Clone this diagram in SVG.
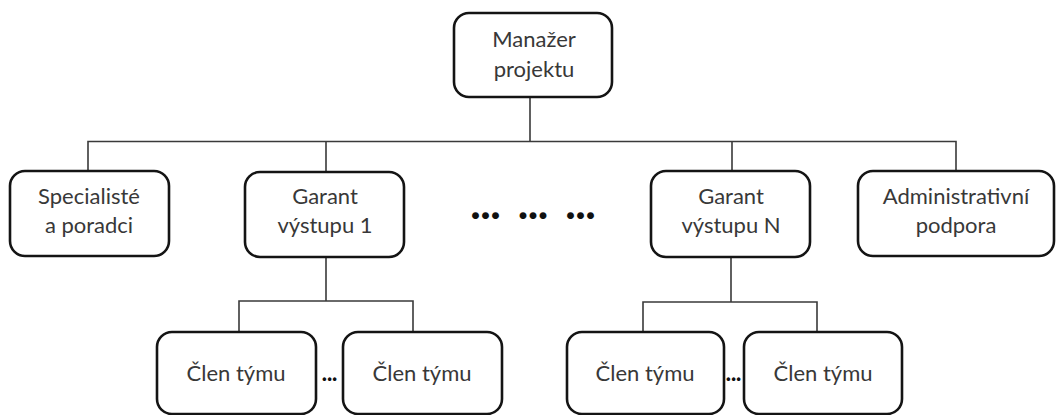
<svg xmlns="http://www.w3.org/2000/svg" width="1056" height="415" viewBox="0 0 1056 415">
  <style>
    .box { fill: #ffffff; stroke: #141414; stroke-width: 2.6; }
    .lbl { font-family: Lato, "Liberation Sans", sans-serif; font-size: 22px; fill: #383838; text-anchor: middle; }
    .dots { font-family: Lato, "Liberation Sans", sans-serif; font-weight: 900; fill: #111111; text-anchor: middle; }
    .conn { stroke: #3a3a3a; stroke-width: 1.6; fill: none; }
  </style>
  <rect width="1056" height="415" fill="#ffffff"/>
  <g id="connectors">
    <path class="conn" d="M530,97 V141.5 M88,171 V141.5 H956 V171 M326,141.5 V172 M732,141.5 V171"/>
    <path class="conn" d="M326,257 V301 M239,332 V301 H413 V332"/>
    <path class="conn" d="M731,257 V302 M643,332 V302 H817 V332"/>
  </g>
  <g id="manazer">
    <rect class="box" x="454" y="13" width="158" height="84" rx="15"/>
    <text class="lbl" x="534" y="47">Manažer</text>
    <text class="lbl" x="534" y="77">projektu</text>
  </g>
  <g id="specialiste">
    <rect class="box" x="10" y="171" width="159" height="85" rx="15"/>
    <text class="lbl" x="89" y="204">Specialisté</text>
    <text class="lbl" x="89" y="233">a poradci</text>
  </g>
  <g id="garant1">
    <rect class="box" x="245" y="172" width="159" height="85" rx="15"/>
    <text class="lbl" x="325" y="204">Garant</text>
    <text class="lbl" x="325" y="233">výstupu 1</text>
  </g>
  <g id="mezera">
    <text class="dots" x="485.5" y="219" font-size="42">...</text>
    <text class="dots" x="533" y="219" font-size="42">...</text>
    <text class="dots" x="580.5" y="219" font-size="42">...</text>
  </g>
  <g id="garantN">
    <rect class="box" x="651" y="171" width="159" height="86" rx="15"/>
    <text class="lbl" x="731" y="204">Garant</text>
    <text class="lbl" x="731" y="233">výstupu N</text>
  </g>
  <g id="administrativa">
    <rect class="box" x="858" y="171" width="196" height="85" rx="15"/>
    <text class="lbl" x="956" y="204">Administrativní</text>
    <text class="lbl" x="956" y="233">podpora</text>
  </g>
  <g id="clen1">
    <rect class="box" x="157" y="332" width="159" height="82" rx="15"/>
    <text class="lbl" x="236" y="381">Člen týmu</text>
  </g>
  <g id="tecky1">
    <text class="dots" x="329.5" y="381" font-size="22">...</text>
  </g>
  <g id="clen2">
    <rect class="box" x="343" y="332" width="159" height="82" rx="15"/>
    <text class="lbl" x="422" y="381">Člen týmu</text>
  </g>
  <g id="clen3">
    <rect class="box" x="567" y="332" width="157" height="82" rx="15"/>
    <text class="lbl" x="645" y="381">Člen týmu</text>
  </g>
  <g id="tecky2">
    <text class="dots" x="733.5" y="381" font-size="22">...</text>
  </g>
  <g id="clen4">
    <rect class="box" x="744" y="332" width="158" height="82" rx="15"/>
    <text class="lbl" x="823" y="381">Člen týmu</text>
  </g>
</svg>
